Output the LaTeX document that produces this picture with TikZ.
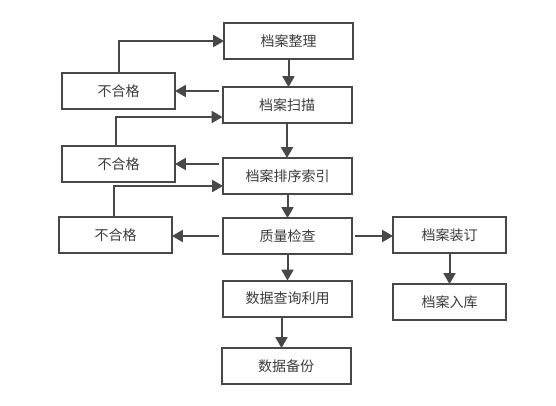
\documentclass[tikz,border=0pt]{standalone}
\usepackage{fontspec}
\newfontfamily\cjk{Noto Sans CJK SC}
\usetikzlibrary{arrows.meta, calc}
\usetikzlibrary{arrows}
\definecolor{mygray}{RGB}{72,72,72}
\definecolor{mytext}{RGB}{60,60,60}
\tikzstyle{stage} = [draw=mygray, line width=2, outer sep=0, inner sep=3,
    minimum width=129, minimum height=36,
    fill=white, text=mytext, font=\cjk\fontsize{14}{16}\selectfont, align=center]
\tikzstyle{reject} = [stage, minimum width=113]
\tikzstyle{link} = [draw=mygray, line width=2, -triangle 60]

\begin{document}
\begin{tikzpicture}[x=1pt, y=-1pt]
\useasboundingbox (0,0) rectangle (556,406);

% 1. Place the main steps
\node[stage] (arrange) at (288.5,41) {档案整理};
\node[stage] (scan) at (287,105) {档案扫描};
\node[stage] (sort) at (287.5,176) {档案排序索引};
\node[stage] (check) at (287.5,236) {质量检查};
\node[stage] (query) at (287.5,298.5) {数据查询利用};
\node[stage] (backup) at (286,366) {数据备份};

% 2. Place the failed checks
\node[reject] (ng1) at (118.5,91) {不合格};
\node[reject] (ng2) at (118.5,164) {不合格};
\node[reject] (ng3) at (115.5,235) {不合格};

% 3. Place the binding branch
\node[reject] (bind) at (449.5,235) {档案装订};
\node[reject] (store) at (449.5,302) {档案入库};



%%% MAIN FLOW
\draw[link] (arrange.south) -- (arrange.south |- scan.north);
\draw[link] (scan.south) -- (scan.south |- sort.north);
\draw[link] (sort.south) -- (sort.south |- check.north);
\draw[link] (check.south) -- (check.south |- query.north);
\draw[link] ([xshift=-6]query.south) -- ([xshift=-6]query.south |- backup.north);

%%% FAILED -> BACK
\draw[link, shorten <=4] (scan.west |- ng1.east) -- (ng1.east);
\draw[link] (ng1.north) |- (arrange.west);
\draw[link, shorten <=4] (sort.west |- ng2.east) -- (ng2.east);
\draw[link] ([xshift=-3]ng2.north) |- ([yshift=-12]scan.west);
\draw[link, shorten <=4] (check.west) -- (check.west -| ng3.east);
\draw[link] ([xshift=-2]ng3.north) |- ([yshift=-10]sort.west);

%%% BINDING
\draw[link, shorten <=3] (check.east) -- (check.east -| bind.west);
\draw[link] (bind.south) -- (store.north);

\end{tikzpicture}
\end{document}
